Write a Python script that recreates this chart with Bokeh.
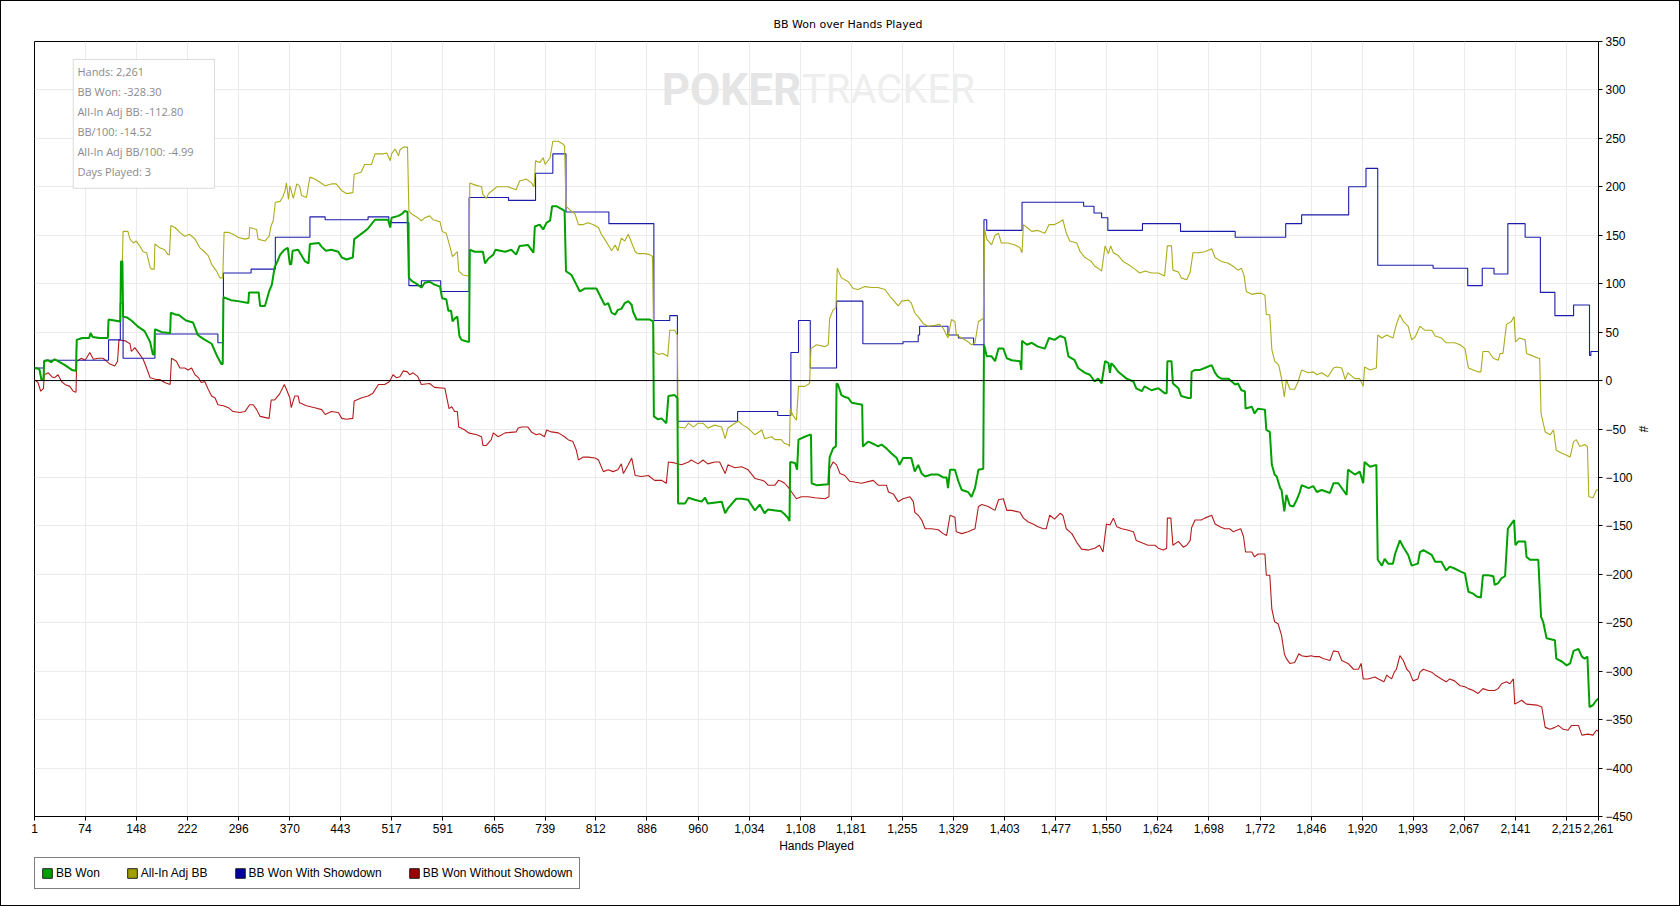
from bokeh.plotting import figure
from bokeh.layouts import column
from bokeh.models import (Range1d, FixedTicker, NumeralTickFormatter, Span, BoxAnnotation,
                          Label, Legend, LegendItem)
from bokeh.embed import file_html
from bokeh.resources import INLINE

# ---------------- data (hand, cumulative BB) ----------------
X_TICKS = [1, 74, 148, 222, 296, 370, 443, 517, 591, 665, 739, 812, 886, 960, 1034, 1108, 1181,
           1255, 1329, 1403, 1477, 1550, 1624, 1698, 1772, 1846, 1920, 1993, 2067, 2141, 2215, 2261]
Y_TICKS = [-450, -400, -350, -300, -250, -200, -150, -100, -50, 0, 50, 100, 150, 200, 250, 300, 350]

SERIES_NAMES = ["BB Won", "All-In Adj BB", "BB Won With Showdown", "BB Won Without Showdown"]

BB_WON = [(1, 13), (8, 12), (11, 1), (14, 1), (15, 20), (20, 21), (25, 19), (30, 22), (35, 20), (45, 16),
          (55, 11), (61, 10), (62, 42), (70, 44), (80, 44), (82, 49), (85, 45), (95, 44), (107, 44), (108, 63),
          (125, 61), (126, 123), (128, 123), (129, 66), (135, 65), (141, 62), (150, 56), (160, 51), (168, 40),
          (172, 27), (174, 27), (175, 53), (185, 50), (197, 49), (198, 70), (205, 68), (209, 68), (220, 62),
          (230, 60), (237, 47), (245, 43), (257, 38), (265, 25), (271, 17), (273, 17), (274, 86), (285, 83),
          (295, 82), (310, 80), (311, 91), (325, 91), (327, 77), (334, 77), (340, 92), (344, 99), (348, 117),
          (352, 123), (356, 130), (362, 135), (367, 137), (370, 120), (372, 120), (374, 134), (382, 135),
          (392, 123), (397, 121), (399, 141), (412, 142), (416, 138), (422, 134), (430, 135), (440, 133),
          (445, 127), (452, 125), (461, 127), (463, 146), (478, 154), (483, 157), (493, 166), (512, 166),
          (515, 158), (517, 168), (527, 170), (532, 172), (536, 175), (540, 174), (542, 106), (546, 103),
          (555, 99), (560, 96), (565, 101), (572, 102), (579, 99), (587, 97), (590, 85), (596, 84), (599, 72),
          (603, 72), (605, 61), (608, 64), (612, 66), (615, 46), (618, 42), (627, 40), (629, 40), (630, 135),
          (637, 133), (649, 133), (652, 121), (657, 126), (664, 130), (667, 135), (681, 133), (690, 135),
          (697, 130), (702, 139), (714, 140), (722, 132), (724, 159), (731, 161), (736, 156), (741, 163),
          (746, 165), (749, 180), (755, 180), (763, 177), (767, 175), (769, 113), (777, 109), (784, 99),
          (789, 92), (796, 95), (813, 95), (820, 85), (825, 78), (830, 80), (835, 70), (840, 68), (844, 73),
          (849, 74), (854, 80), (859, 82), (864, 78), (866, 71), (871, 63), (890, 63), (895, 61), (896, -37),
          (902, -40), (907, -39), (914, -44), (917, -16), (926, -15), (930, -18), (931, -127), (941, -127),
          (946, -121), (955, -123), (965, -125), (970, -121), (974, -127), (994, -125), (999, -137),
          (1003, -132), (1015, -122), (1023, -122), (1032, -123), (1042, -134), (1049, -128), (1056, -137),
          (1061, -133), (1080, -135), (1085, -138), (1090, -142), (1092, -145), (1093, -84), (1100, -85),
          (1103, -92), (1105, -61), (1114, -58), (1121, -56), (1123, -56), (1124, -106), (1131, -108),
          (1148, -107), (1150, -79), (1155, -70), (1159, -68), (1160, -3), (1162, -4), (1167, -15),
          (1172, -17), (1177, -18), (1182, -23), (1197, -25), (1198, -68), (1201, -66), (1206, -63),
          (1215, -66), (1220, -68), (1225, -66), (1232, -70), (1239, -75), (1247, -80), (1251, -87),
          (1256, -80), (1268, -80), (1273, -94), (1278, -87), (1283, -96), (1288, -99), (1297, -97),
          (1307, -97), (1314, -100), (1319, -100), (1321, -111), (1324, -92), (1331, -92), (1336, -104),
          (1341, -113), (1350, -115), (1355, -120), (1360, -111), (1365, -92), (1372, -91), (1373, 37),
          (1377, 25), (1384, 25), (1389, 20), (1394, 33), (1401, 33), (1406, 23), (1413, 21), (1425, 20),
          (1427, 11), (1428, 41), (1435, 37), (1442, 39), (1451, 35), (1461, 33), (1467, 44), (1475, 42),
          (1483, 46), (1490, 44), (1495, 25), (1504, 21), (1509, 13), (1519, 8), (1526, 6), (1533, -1),
          (1538, 2), (1543, -3), (1548, 20), (1553, 18), (1555, 8), (1557, 18), (1562, 14), (1567, 9),
          (1579, 2), (1589, -1), (1593, -8), (1601, -11), (1605, -6), (1615, -10), (1625, -8), (1634, -13),
          (1637, -13), (1638, 20), (1644, 20), (1646, -3), (1654, -8), (1658, -16), (1668, -18), (1672, -18),
          (1673, 9), (1678, 11), (1685, 11), (1692, 13), (1702, 16), (1707, 8), (1711, 4), (1716, 2),
          (1726, 2), (1731, -1), (1736, -4), (1740, -3), (1745, -10), (1750, -11), (1751, -29), (1760, -27),
          (1764, -34), (1769, -29), (1779, -30), (1781, -51), (1786, -53), (1789, -87), (1793, -97),
          (1796, -99), (1801, -111), (1803, -113), (1807, -135), (1810, -118), (1815, -129), (1820, -130),
          (1825, -123), (1829, -116), (1832, -108), (1842, -111), (1849, -109), (1854, -115), (1861, -113),
          (1873, -116), (1878, -106), (1885, -106), (1892, -113), (1897, -118), (1899, -92), (1909, -97),
          (1916, -94), (1921, -106), (1923, -84), (1931, -89), (1940, -87), (1942, -185), (1948, -191),
          (1952, -184), (1957, -189), (1964, -189), (1967, -179), (1974, -165), (1979, -172), (1986, -180),
          (1991, -191), (2000, -189), (2003, -177), (2008, -175), (2020, -180), (2025, -187), (2034, -187),
          (2041, -196), (2046, -192), (2053, -194), (2061, -197), (2068, -199), (2073, -218), (2080, -220),
          (2085, -223), (2091, -224), (2094, -201), (2102, -201), (2109, -202), (2111, -211), (2116, -209),
          (2121, -204), (2126, -202), (2130, -153), (2135, -148), (2139, -144), (2141, -170), (2145, -166),
          (2155, -166), (2157, -182), (2162, -185), (2174, -185), (2178, -244), (2181, -249), (2186, -266),
          (2198, -268), (2200, -287), (2208, -290), (2215, -294), (2220, -292), (2225, -279), (2232, -277),
          (2237, -285), (2241, -287), (2245, -285), (2248, -337), (2253, -335), (2258, -330), (2261, -328.3)]

ALLIN_ADJ = [(1, 13), (8, 12), (11, 1), (14, 1), (15, 20), (20, 21), (25, 19), (30, 22), (35, 20), (45, 16),
             (55, 11), (61, 10), (62, 42), (70, 44), (80, 44), (82, 49), (85, 45), (95, 44), (107, 44), (108, 63),
             (125, 61), (126, 123), (128, 123), (129, 154), (136, 154), (139, 146), (144, 142), (148, 144),
             (153, 139), (158, 133), (163, 132), (168, 117), (170, 115), (174, 115), (175, 141), (182, 137),
             (189, 135), (194, 130), (196, 130), (198, 160), (204, 158), (211, 153), (218, 149), (225, 151),
             (233, 146), (240, 137), (245, 134), (252, 129), (257, 120), (264, 113), (269, 106), (273, 106),
             (275, 153), (281, 153), (288, 151), (295, 148), (305, 146), (311, 147), (312, 158), (322, 156),
             (324, 146), (334, 144), (340, 149), (343, 160), (346, 165), (349, 184), (356, 185), (360, 190),
             (363, 196), (365, 204), (368, 187), (370, 201), (375, 188), (380, 203), (384, 201), (387, 191),
             (394, 189), (399, 210), (406, 208), (413, 205), (421, 201), (430, 203), (437, 203), (445, 196),
             (452, 193), (461, 194), (463, 213), (473, 215), (478, 223), (488, 223), (493, 234), (505, 234),
             (510, 235), (515, 227), (517, 234), (522, 239), (527, 232), (529, 238), (534, 241), (540, 241),
             (542, 175), (546, 172), (555, 168), (560, 165), (565, 168), (572, 170), (577, 166), (587, 164),
             (590, 154), (596, 152), (601, 139), (605, 128), (612, 133), (614, 113), (620, 109), (628, 108),
             (629, 108), (630, 204), (637, 202), (647, 200), (649, 192), (654, 188), (657, 193), (664, 197),
             (669, 200), (685, 200), (693, 198), (697, 197), (702, 206), (712, 208), (719, 204), (723, 200),
             (725, 227), (731, 225), (736, 230), (739, 223), (746, 230), (750, 247), (758, 247), (765, 244),
             (767, 242), (769, 180), (775, 176), (782, 172), (787, 161), (794, 161), (801, 163), (808, 161),
             (816, 158), (820, 151), (824, 147), (830, 140), (835, 134), (840, 140), (844, 134), (849, 147),
             (854, 144), (859, 151), (864, 142), (869, 133), (873, 131), (883, 131), (890, 130), (894, 128),
             (896, 30), (902, 27), (909, 28), (916, 25), (919, 52), (926, 52), (930, 47), (931, -48), (941, -49),
             (946, -44), (953, -48), (960, -44), (967, -44), (974, -49), (984, -46), (994, -48), (999, -60),
             (1003, -49), (1013, -44), (1018, -42), (1025, -46), (1032, -49), (1042, -56), (1052, -51),
             (1056, -60), (1066, -58), (1071, -61), (1080, -61), (1085, -65), (1090, -66), (1092, -68),
             (1093, -29), (1097, -36), (1102, -41), (1105, -6), (1114, -6), (1121, -3), (1123, 33), (1131, 37),
             (1143, 35), (1148, 37), (1150, 64), (1155, 73), (1159, 75), (1161, 116), (1167, 106), (1177, 102),
             (1184, 95), (1191, 94), (1201, 97), (1211, 96), (1220, 96), (1230, 94), (1237, 87), (1242, 83),
             (1249, 77), (1254, 82), (1264, 83), (1268, 80), (1273, 70), (1280, 64), (1285, 59), (1292, 56),
             (1302, 57), (1309, 58), (1314, 54), (1321, 44), (1326, 63), (1331, 61), (1333, 47), (1341, 44),
             (1350, 40), (1355, 37), (1360, 39), (1365, 61), (1372, 64), (1374, 156), (1377, 146), (1384, 140),
             (1389, 150), (1394, 152), (1398, 142), (1408, 142), (1418, 140), (1425, 137), (1428, 132),
             (1430, 161), (1437, 157), (1442, 154), (1451, 155), (1461, 152), (1467, 161), (1475, 161),
             (1483, 164), (1487, 166), (1492, 152), (1497, 144), (1507, 142), (1512, 133), (1519, 127),
             (1528, 123), (1533, 118), (1538, 116), (1543, 113), (1548, 139), (1553, 131), (1556, 139),
             (1560, 132), (1567, 129), (1574, 123), (1581, 120), (1591, 115), (1598, 111), (1606, 113),
             (1615, 111), (1625, 111), (1634, 108), (1638, 139), (1644, 139), (1646, 114), (1654, 112),
             (1658, 106), (1666, 104), (1671, 112), (1675, 132), (1683, 132), (1692, 133), (1702, 136),
             (1707, 127), (1716, 123), (1726, 121), (1733, 118), (1740, 114), (1745, 116), (1749, 108),
             (1752, 92), (1760, 89), (1767, 90), (1774, 90), (1779, 88), (1781, 68), (1786, 68), (1789, 32),
             (1793, 20), (1799, 16), (1803, 2), (1807, -17), (1810, 1), (1815, -9), (1822, -9), (1827, -1),
             (1832, 11), (1842, 8), (1849, 9), (1854, 6), (1861, 8), (1870, 4), (1878, 13), (1883, 14),
             (1890, 13), (1895, 1), (1899, 8), (1909, 2), (1916, 2), (1921, -6), (1923, 14), (1931, 11),
             (1940, 13), (1942, 47), (1948, 44), (1955, 47), (1964, 44), (1969, 58), (1974, 68), (1979, 61),
             (1986, 56), (1991, 42), (1996, 45), (2003, 56), (2010, 52), (2020, 52), (2025, 46), (2034, 44),
             (2041, 39), (2053, 39), (2061, 37), (2068, 33), (2073, 13), (2080, 11), (2087, 9), (2091, 9),
             (2094, 30), (2102, 30), (2109, 23), (2116, 21), (2119, 28), (2123, 28), (2128, 58), (2135, 61),
             (2139, 66), (2141, 40), (2147, 44), (2155, 42), (2157, 28), (2164, 26), (2174, 23), (2176, 23),
             (2178, -34), (2184, -53), (2191, -56), (2196, -51), (2200, -72), (2208, -75), (2215, -77),
             (2220, -79), (2225, -63), (2229, -61), (2234, -68), (2241, -66), (2245, -68), (2247, -120),
             (2253, -121), (2258, -113), (2261, -112.8)]

WITH_SD = [(1, 13), (15, 21), (108, 42), (125, 80), (129, 23), (175, 48), (266, 39), (274, 111), (314, 115),
           (349, 148), (399, 169), (421, 166), (483, 169), (513, 163), (542, 98), (560, 103), (588, 92),
           (629, 189), (686, 186), (725, 214), (750, 234), (769, 174), (831, 162), (896, 62), (919, 67),
           (930, -42), (1017, -32), (1075, -36), (1094, 29), (1105, 62), (1122, 13), (1160, 82), (1198, 38),
           (1256, 40), (1278, 47), (1280, 56), (1321, 47), (1336, 44), (1358, 37), (1373, 166), (1377, 155),
           (1428, 184), (1517, 180), (1532, 173), (1543, 168), (1552, 155), (1602, 162), (1657, 154),
           (1736, 148), (1809, 162), (1832, 171), (1900, 200), (1925, 219), (1942, 119), (2022, 116),
           (2072, 98), (2093, 116), (2110, 110), (2130, 162), (2155, 148), (2177, 91), (2198, 67), (2225, 78),
           (2248, 26), (2250, 30), (2261, 30)]

WITHOUT_SD = [(1, 1), (6, -2), (10, -11), (14, -8), (15, 6), (21, 8), (26, 4), (30, 3), (35, 6), (40, -1),
              (45, -4), (52, -6), (57, -11), (61, -12), (62, 20), (69, 23), (74, 21), (81, 29), (86, 22),
              (93, 23), (100, 23), (105, 20), (110, 17), (117, 15), (121, 20), (123, 42), (132, 41), (139, 38),
              (141, 30), (146, 34), (153, 27), (158, 22), (163, 13), (168, 3), (177, 1), (182, 1), (189, -2),
              (197, -4), (199, 23), (206, 20), (211, 13), (218, 13), (223, 11), (228, 13), (233, 6), (238, 3),
              (242, -2), (247, -1), (252, -9), (257, -16), (262, -18), (266, -25), (274, -26), (281, -28),
              (288, -32), (298, -33), (305, -32), (312, -25), (317, -25), (322, -30), (327, -37), (340, -39),
              (343, -20), (348, -20), (355, -14), (362, -4), (365, -9), (370, -18), (372, -28), (377, -16),
              (382, -16), (384, -23), (394, -26), (406, -28), (416, -30), (421, -35), (430, -32), (440, -33),
              (445, -39), (452, -40), (461, -39), (463, -21), (473, -18), (483, -16), (490, -13), (498, -4),
              (507, -4), (514, -1), (519, 6), (524, 3), (529, 4), (534, 10), (540, 9), (543, 6), (548, 8),
              (555, 4), (560, -4), (572, -3), (579, -7), (594, -8), (596, -15), (600, -29), (604, -27),
              (608, -32), (612, -32), (614, -48), (623, -51), (628, -54), (640, -56), (647, -58), (649, -67),
              (654, -67), (661, -61), (664, -54), (671, -58), (681, -54), (697, -53), (700, -49), (705, -48),
              (714, -48), (719, -53), (726, -56), (731, -55), (738, -58), (741, -51), (748, -53), (758, -54),
              (767, -58), (772, -61), (779, -63), (784, -72), (787, -82), (794, -79), (801, -79), (811, -80),
              (816, -82), (823, -94), (830, -92), (837, -94), (844, -92), (849, -86), (852, -96), (859, -87),
              (864, -80), (869, -98), (878, -99), (888, -98), (897, -103), (907, -103), (914, -106), (917, -84),
              (926, -85), (936, -87), (946, -84), (950, -82), (960, -86), (967, -82), (974, -86), (984, -84),
              (991, -84), (999, -96), (1003, -87), (1013, -90), (1023, -89), (1032, -92), (1042, -101),
              (1052, -103), (1056, -104), (1061, -108), (1071, -108), (1076, -103), (1080, -104), (1085, -106),
              (1090, -110), (1095, -115), (1102, -122), (1109, -120), (1119, -120), (1129, -121), (1143, -122),
              (1149, -120), (1150, -91), (1155, -84), (1160, -87), (1165, -96), (1172, -98), (1179, -104),
              (1196, -106), (1213, -103), (1220, -108), (1232, -108), (1235, -115), (1242, -117), (1249, -125),
              (1256, -122), (1266, -120), (1271, -125), (1273, -136), (1278, -139), (1283, -144), (1288, -153),
              (1297, -153), (1307, -154), (1314, -158), (1319, -160), (1324, -139), (1331, -141), (1333, -156),
              (1341, -158), (1350, -156), (1360, -153), (1365, -130), (1370, -128), (1379, -130), (1389, -134),
              (1394, -123), (1401, -122), (1406, -134), (1413, -134), (1425, -136), (1430, -142), (1437, -146),
              (1444, -148), (1451, -151), (1459, -153), (1463, -153), (1468, -139), (1475, -143), (1483, -137),
              (1487, -139), (1492, -153), (1500, -158), (1507, -167), (1514, -174), (1524, -175), (1533, -173),
              (1540, -170), (1545, -177), (1550, -148), (1555, -149), (1560, -142), (1565, -151), (1572, -153),
              (1579, -154), (1589, -156), (1593, -165), (1603, -168), (1610, -170), (1620, -170), (1625, -173),
              (1632, -175), (1637, -173), (1638, -142), (1643, -142), (1646, -170), (1654, -166), (1661, -172),
              (1666, -170), (1671, -165), (1673, -152), (1678, -144), (1687, -144), (1692, -142), (1702, -139),
              (1707, -148), (1714, -151), (1721, -153), (1728, -153), (1733, -156), (1744, -153), (1748, -161),
              (1751, -177), (1760, -177), (1764, -182), (1769, -179), (1779, -179), (1781, -201), (1786, -201),
              (1789, -236), (1793, -249), (1798, -251), (1803, -263), (1807, -282), (1810, -287), (1815, -292),
              (1822, -291), (1828, -282), (1832, -284), (1839, -285), (1846, -284), (1851, -285), (1858, -285),
              (1863, -287), (1873, -289), (1878, -279), (1885, -280), (1890, -289), (1899, -292), (1907, -298),
              (1914, -298), (1918, -292), (1921, -308), (1928, -308), (1938, -306), (1943, -308), (1951, -311),
              (1955, -304), (1962, -308), (1966, -301), (1969, -298), (1974, -284), (1979, -289), (1984, -298),
              (1988, -301), (1993, -310), (2000, -308), (2003, -301), (2008, -298), (2020, -301), (2025, -304),
              (2034, -308), (2041, -311), (2046, -308), (2053, -310), (2061, -315), (2068, -316), (2073, -318),
              (2080, -320), (2087, -323), (2094, -318), (2102, -320), (2111, -320), (2116, -318), (2121, -313),
              (2128, -311), (2133, -313), (2138, -308), (2140, -334), (2150, -330), (2157, -334), (2172, -335),
              (2179, -337), (2184, -358), (2191, -360), (2198, -358), (2203, -356), (2210, -360), (2217, -361),
              (2222, -356), (2232, -356), (2237, -366), (2246, -365), (2253, -366), (2258, -361), (2261, -362)]

STATS_LINES = ["Hands: 2,261", "BB Won: -328.30", "All-In Adj BB: -112.80", "BB/100: -14.52",
               "All-In Adj BB/100: -4.99", "Days Played: 3"]

LINE_COLORS = ["#00a000", "#acac1c", "#1c1cac", "#b41c1c"]
SWATCH_COLORS = ["#00a000", "#a0a000", "#0000a0", "#a00000"]

# ---------------- main figure ----------------
FONT = "Liberation Sans"
W = 1680

p = figure(width=W, height=857, output_backend="svg", toolbar_location=None,
           x_range=Range1d(1, 2261), y_range=Range1d(-450, 350), y_axis_location="right",
           min_border_left=33, min_border_right=83, min_border_top=40, min_border_bottom=42,
           title="BB Won over Hands Played")
p.styles = {"border-top": "1px solid black", "border-left": "1px solid black",
            "border-right": "1px solid black"}
p.background_fill_color = "white"
p.border_fill_color = "white"
p.outline_line_color = "black"
p.outline_line_width = 1

p.title.align = "left"
p.title.offset = 739
p.title.standoff = 21
p.title.text_font = "DejaVu Sans"
p.title.text_font_size = "11px"
p.title.text_font_style = "normal"
p.title.text_color = "black"

p.xaxis.ticker = FixedTicker(ticks=X_TICKS)
p.xaxis.formatter = NumeralTickFormatter(format="0,0")
p.yaxis.ticker = FixedTicker(ticks=Y_TICKS)
p.xaxis.axis_label = "Hands Played"
p.yaxis.axis_label = "#"
for ax in (p.xaxis, p.yaxis):
    ax.axis_line_color = "black"
    ax.major_tick_line_color = "black"
    ax.major_tick_out = 4
    ax.major_tick_in = 0
    ax.minor_tick_out = 0
    ax.minor_tick_in = 0
    ax.major_label_text_font = FONT
    ax.major_label_text_font_size = "12px"
    ax.major_label_text_color = "black"
    ax.major_label_standoff = 3
    ax.axis_label_text_font = FONT
    ax.axis_label_text_font_size = "12px"
    ax.axis_label_text_font_style = "normal"
    ax.axis_label_text_color = "black"
p.xaxis.axis_label_standoff = 3
p.yaxis.axis_label_standoff = 0

p.grid.grid_line_color = "#ebebeb"
p.grid.grid_line_width = 1

# watermark
p.add_layout(Label(x=1109, y=300, text="POKER", text_align="right", text_baseline="alphabetic",
                   text_font="Roboto", text_font_style="bold", text_font_size="44px",
                   text_color="#e5e5e5", level="underlay"))
p.add_layout(Label(x=1110, y=300, text="TRACKER", text_align="left", text_baseline="alphabetic",
                   text_font="Roboto", text_font_style="normal", text_font_size="40px",
                   text_color="#eeeeee", level="underlay"))

p.add_layout(Span(location=0, dimension="width", line_color="black", line_width=1))

def xs(pts):
    return [h for h, _ in pts]

def ys(pts):
    return [v for _, v in pts]

p.line(xs(WITHOUT_SD), ys(WITHOUT_SD), line_color=LINE_COLORS[3], line_width=1.1)
p.step(xs(WITH_SD), ys(WITH_SD), mode="after", line_color=LINE_COLORS[2], line_width=1.1)
p.line(xs(ALLIN_ADJ), ys(ALLIN_ADJ), line_color=LINE_COLORS[1], line_width=1.1)
p.line(xs(BB_WON), ys(BB_WON), line_color=LINE_COLORS[0], line_width=2)

# stats box
p.add_layout(BoxAnnotation(left=57, right=261, top=331.5, bottom=198.5, fill_color="white", fill_alpha=1,
                           line_color="#8c8c8c", line_width=1, level="overlay"))
for i, txt in enumerate(STATS_LINES):
    p.add_layout(Label(x=63, y=319 - i * 20.7, text=txt, text_baseline="middle", text_font="Open Sans",
                       text_font_size="11px", text_color="#8a8a8a", level="overlay"))

# ---------------- legend strip ----------------
lg = figure(width=W, height=49, output_backend="svg", toolbar_location=None,
            x_range=Range1d(0, 1), y_range=Range1d(0, 1), x_axis_location=None, y_axis_location=None,
            min_border_left=33, min_border_right=83, min_border_top=0, min_border_bottom=0)
lg.styles = {"border-bottom": "1px solid black", "border-left": "1px solid black",
             "border-right": "1px solid black"}
lg.outline_line_color = None
lg.grid.visible = False
lg.background_fill_color = "white"
lg.border_fill_color = "white"

NAN = float("nan")
items = []
for name, col in zip(SERIES_NAMES, SWATCH_COLORS):
    r = lg.quad(left=[NAN], right=[NAN], bottom=[NAN], top=[NAN], fill_color=col, line_color="#202020")
    items.append(LegendItem(label=name, renderers=[r]))
legend = Legend(items=items, orientation="horizontal", location="top_left")
legend.glyph_width = 12
legend.glyph_height = 12
legend.label_height = 18
legend.label_standoff = 3
legend.spacing = 26
legend.padding = 6
legend.margin = 0
legend.border_line_color = "black"
legend.border_line_width = 1
legend.background_fill_color = "white"
legend.background_fill_alpha = 1
legend.label_text_font = FONT
legend.label_text_font_size = "12px"
legend.label_text_color = "black"
lg.add_layout(legend, "center")

layout = column(p, lg, spacing=0)

html = file_html(layout, INLINE)
open("out.html", "w").write(html)
